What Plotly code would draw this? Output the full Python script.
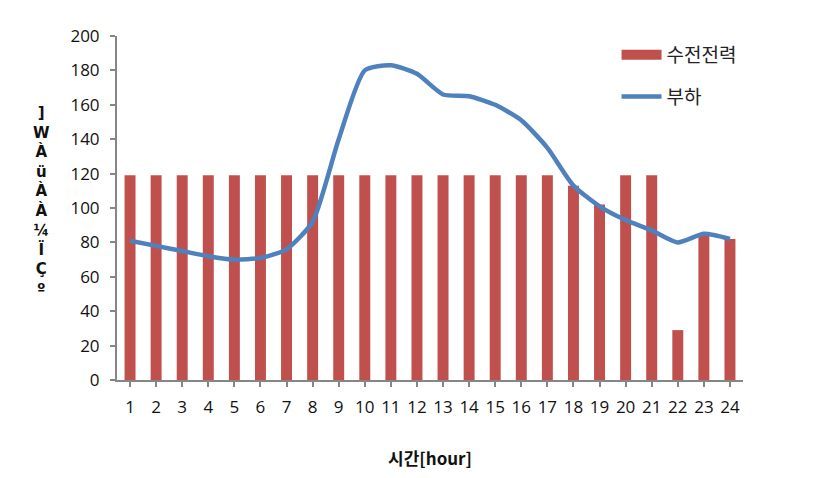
import plotly.graph_objects as go

hours = list(range(1, 25))
hour_labels = [str(h) for h in hours]
power_received = [119, 119, 119, 119, 119, 119, 119, 119, 119, 119, 119, 119,
                  119, 119, 119, 119, 119, 113, 102, 119, 119, 29, 84, 82]
load = [81, 78, 75, 72, 70, 71, 76, 92, 140, 180, 183, 178,
        166, 165, 160, 151, 135, 113, 101, 93, 87, 80, 85, 82]

ytitle_chars = ["]", "W", "À", "ü", "À", "À", "¼", "Ï", "Ç", "º"]

RED = "#C0504D"
BLUE = "#4F81BD"

fig = go.Figure()
fig.add_trace(go.Bar(x=hours, y=power_received, name="수전전력", showlegend=False,
                     legendgroup="a", marker=dict(color=RED, line=dict(width=0))))
# legend entry with a wide rectangular swatch for the bars
fig.add_trace(go.Scatter(x=[None], y=[None], name="수전전력", mode="lines", legendgroup="a",
                         line=dict(color=RED, width=12)))
fig.add_trace(go.Scatter(x=hours, y=load, name="부하", mode="lines", legendgroup="b",
                         line=dict(color=BLUE, width=4.5, shape="spline", smoothing=0.6)))

fig.update_layout(
    width=815, height=478,
    margin=dict(l=117, r=72, t=36, b=96),
    plot_bgcolor="white", paper_bgcolor="white",
    bargap=0.58,
    showlegend=True,
    legend=dict(x=0.798, y=1.0, xanchor="left", yanchor="top",
                font=dict(family="Noto Sans CJK KR", size=19, color="#222"),
                traceorder="grouped", tracegroupgap=14, itemwidth=40),
    font=dict(family="Open Sans", size=17, color="#111"),
)
fig.update_xaxes(
    type="linear", range=[0.5, 24.5], tickmode="array", tickvals=hours, ticktext=hour_labels,
    showline=True, linecolor="#868686", linewidth=2,
    ticks="outside", ticklen=5, tickcolor="#868686", tickwidth=2,
    showgrid=False, zeroline=False, ticklabelstandoff=6,
    tickfont=dict(family="Open Sans", size=17, color="#111"),
    title=dict(text="<b>시간[hour]</b>", font=dict(family="Noto Sans CJK KR", size=17, color="#111"),
               standoff=36),
)
fig.update_yaxes(
    range=[0, 200], dtick=20,
    showline=True, linecolor="#868686", linewidth=2,
    ticks="outside", ticklen=5, tickcolor="#868686", tickwidth=2,
    showgrid=False, zeroline=False, ticklabelstandoff=7,
    tickfont=dict(family="Open Sans", size=17, color="#111"),
)
fig.add_annotation(
    text="<b>" + "<br>".join(ytitle_chars) + "</b>",
    xref="paper", yref="paper", x=-0.12, y=0.52, xanchor="center", yanchor="middle",
    showarrow=False, font=dict(family="DejaVu Sans", size=15, color="#111"),
)

fig.write_html("out.html")
